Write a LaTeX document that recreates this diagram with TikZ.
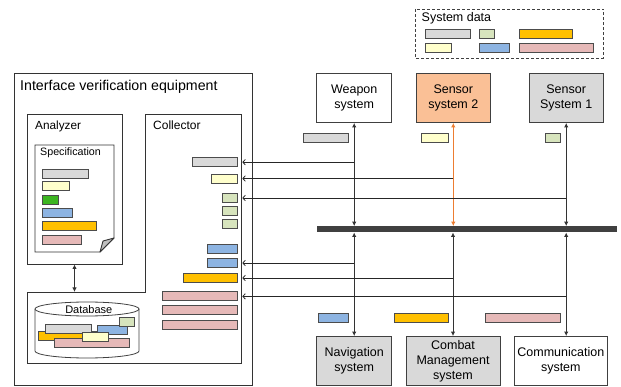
\documentclass[tikz,border=0pt]{standalone}
\usepackage{fontspec}
\setmainfont{Liberation Sans}
\usetikzlibrary{arrows.meta}

\definecolor{cGray}{HTML}{D9D9D9}
\definecolor{cYellow}{HTML}{FFFFCC}
\definecolor{cGreen}{HTML}{D7E4BD}
\definecolor{cLeaf}{HTML}{3CB521}
\definecolor{cBlue}{HTML}{8DB4E2}
\definecolor{cOrange}{HTML}{FFC000}
\definecolor{cPink}{HTML}{E6B9B8}
\definecolor{cPeach}{RGB}{250,192,150}
\definecolor{cLink}{HTML}{ED7D31}
\definecolor{cBus}{HTML}{404040}

\tikzset{
  frame/.style={draw=black!80, line width=0.9pt},
  bar/.style={draw=black!70, line width=0.8pt, inner sep=0pt, outer sep=0pt, minimum height=9pt},
  sysbox/.style={draw=black!75, line width=0.9pt, inner sep=0pt, align=center,
    minimum height=49pt, font=\fontsize{12.5}{14.5}\selectfont},
  caption/.style={inner sep=0pt, anchor=base west},
  vlink/.style={draw=black!80, line width=0.9pt, {Latex[length=4.5pt,width=4.5pt]}-{Latex[length=4.5pt,width=4.5pt]}},
  feed/.style={draw=black!85, line width=0.8pt, -{Straight Barb[length=2.5pt,width=5.5pt]}}
}

\begin{document}
\begin{tikzpicture}[x=1pt,y=-1pt]
\useasboundingbox (0,0) rectangle (621,387);

% ---------- legend ----------
\draw[draw=black!75, line width=0.8pt, dash pattern=on 3pt off 2pt] (415.7,9) rectangle (603.3,58.3);
\node[caption, font=\fontsize{12.5}{14}\selectfont] (sdtitle) at (421.5,21.7) {System data};
\node[bar, fill=cGray,   minimum width=45.3pt, anchor=west] (lgray) at (425,34.2) {};
\node[bar, fill=cGreen,  minimum width=15.3pt, anchor=west] (lgreen) at (479,34.2) {};
\node[bar, fill=cOrange, minimum width=53.4pt, anchor=west] (lorange) at (519.3,34.2) {};
\node[bar, fill=cYellow, minimum width=26pt,   anchor=west] (lyellow) at (425,47.5) {};
\node[bar, fill=cBlue,   minimum width=30.3pt, anchor=west] (lblue) at (479,47.5) {};
\node[bar, fill=cPink,   minimum width=74.4pt, anchor=west] (lpink) at (519.3,47.5) {};

% ---------- interface verification equipment ----------
\draw[frame] (14,73) rectangle (252.5,385.5);
\node[caption, font=\fontsize{14.2}{16}\selectfont] (ivetitle) at (20,90.7) {Interface verification equipment};

% analyzer
\node[frame, inner sep=0pt, minimum width=95pt, minimum height=150pt] (ana) at (74.5,189) {};
\node[caption, font=\fontsize{11.8}{14}\selectfont] (anatitle) at (35,130) {Analyzer};

% specification sheet with folded corner
\draw[frame, fill=white] (35,145) -- (114,145) -- (114,238) -- (100,252) -- (35,252) -- cycle;
\draw[frame, fill=black!25, line join=round] (114,238) -- (103,241) -- (100,252) -- cycle;
\node[caption, font=\fontsize{10.7}{13}\selectfont] (spectitle) at (40,156) {Specification};
\node[bar, fill=cGray,   minimum width=45.5pt, anchor=west] (sgray) at (42.5,173.6) {};
\node[bar, fill=cYellow, minimum width=26.5pt, anchor=west] (syellow) at (42.5,186.4) {};
\node[bar, fill=cLeaf,   minimum width=15.5pt, anchor=west] (sgreen) at (42.5,199.6) {};
\node[bar, fill=cBlue,   minimum width=30.2pt, anchor=west] (sblue) at (42.5,213.3) {};
\node[bar, fill=cOrange, minimum width=54.2pt, anchor=west] (sorange) at (42.5,226.4) {};
\node[bar, fill=cPink,   minimum width=38.8pt, anchor=west] (spink) at (42.5,240) {};

% collector and database area
\draw[frame] (145,114) -- (241,114) -- (241,363) -- (27,363) -- (27,292) -- (145,292) -- cycle;
\node[caption, font=\fontsize{12}{14}\selectfont] (coltitle) at (153,130) {Collector};
\coordinate (dbtop) at (75,292);
\draw[vlink] (ana.south) -- (ana.south |- dbtop);

% database cylinder
\draw[draw=black!75, line width=0.8pt, fill=white]
  (35,309) -- (35,351) arc[start angle=180, end angle=360, x radius=52pt, y radius=7pt] -- (139,309);
\draw[draw=black!75, line width=0.8pt, fill=white] (87,309) ellipse[x radius=52pt, y radius=7pt];
\node[inner sep=0pt, anchor=base, font=\fontsize{11}{13}\selectfont] (dbtitle) at (88.8,313.3) {Database};
\node[bar, fill=cOrange, minimum width=62pt,   anchor=west] (dorange) at (38.3,336) {};
\node[bar, fill=cGray,   minimum width=45.3pt, anchor=west] (dgray) at (45.7,328.7) {};
\node[bar, fill=cPink,   minimum width=74.7pt, anchor=west] (dpink) at (54.3,343) {};
\node[bar, fill=cBlue,   minimum width=30pt,   anchor=west] (dblue) at (97.3,329.8) {};
\node[bar, fill=cGreen,  minimum width=15pt,   anchor=west] (dgreen) at (119.3,322.2) {};
\node[bar, fill=cYellow, minimum width=25.6pt, anchor=west] (dyellow) at (82.7,336.5) {};

% collected records
\node[bar, fill=cGray,   minimum width=45.3pt, anchor=east] (cgray) at (237.3,162.2) {};
\node[bar, fill=cYellow, minimum width=25.6pt, anchor=east] (cyellow) at (237.3,178.5) {};
\node[bar, fill=cGreen,  minimum width=14.6pt, anchor=east] (cgreenA) at (237.3,198) {};
\node[bar, fill=cGreen,  minimum width=14.6pt, anchor=east] (cgreenB) at (237.3,211.2) {};
\node[bar, fill=cGreen,  minimum width=14.6pt, anchor=east] (cgreenC) at (237.3,224.2) {};
\node[bar, fill=cBlue,   minimum width=30pt,   anchor=east] (cblueA) at (237.3,249.2) {};
\node[bar, fill=cBlue,   minimum width=30pt,   anchor=east] (cblueB) at (237.3,263) {};
\node[bar, fill=cOrange, minimum width=53.6pt, anchor=east] (corange) at (237.3,278) {};
\node[bar, fill=cPink,   minimum width=74.6pt, anchor=east] (cpinkA) at (237.3,296.4) {};
\node[bar, fill=cPink,   minimum width=74.6pt, anchor=east] (cpinkB) at (237.3,310) {};
\node[bar, fill=cPink,   minimum width=74.6pt, anchor=east] (cpinkC) at (237.3,324.7) {};

% ---------- systems on the bus ----------
\node[sysbox, fill=white,  minimum width=75pt]   (wpn)  at (354.2,98) {Weapon\\system};
\node[sysbox, fill=cPeach, minimum width=74.7pt] (sen2) at (453.3,98) {Sensor\\system 2};
\node[sysbox, fill=cGray,  minimum width=74.3pt] (sen1) at (566.2,98) {Sensor\\System 1};

\node[sysbox, fill=cGray, minimum width=75pt] (nav) at (354.2,361) {Navigation\\system};
\node[sysbox, fill=cGray, minimum width=94pt, font=\fontsize{12.5}{15.2}\selectfont] (cms) at (453,361) {Combat\\Management\\system};
\node[sysbox, fill=white, minimum width=93pt] (com) at (560.8,361) {Communication\\system};

\node[fill=cBus, inner sep=0pt, minimum width=300pt, minimum height=6pt] (bus) at (467,229.3) {};

% messages on the links
\node[bar, fill=cGray,   minimum width=45pt,   anchor=west] (mgray) at (303.3,138.2) {};
\node[bar, fill=cYellow, minimum width=26.6pt, anchor=west] (myellow) at (421.7,138.2) {};
\node[bar, fill=cGreen,  minimum width=15pt,   anchor=west] (mgreen) at (545.7,138.2) {};
\node[bar, fill=cBlue,   minimum width=30pt,   anchor=west] (mblue) at (318.3,317.8) {};
\node[bar, fill=cOrange, minimum width=54pt,   anchor=west] (morange) at (394.3,317.8) {};
\node[bar, fill=cPink,   minimum width=74.3pt, anchor=west] (mpink) at (485.7,317.8) {};

% links between systems and bus
\draw[vlink] (wpn.south) -- (wpn.south |- bus.north);
\draw[vlink, draw=cLink, line width=1.1pt] (sen2.south) -- (sen2.south |- bus.north);
\draw[vlink] (sen1.south) -- (sen1.south |- bus.north);
\draw[vlink] (nav.north |- bus.south) -- (nav.north);
\draw[vlink] (cms.north |- bus.south) -- (cms.north);
\draw[vlink] (sen1.south |- bus.south) -- (sen1.south |- com.north);

% taps feeding the collector
\draw[feed] (wpn.south |- cgray.east) -- ([xshift=5pt]cgray.east);
\draw[feed] (sen2.south |- cyellow.east) -- ([xshift=5pt]cyellow.east);
\draw[feed] (sen1.south |- cgreenA.east) -- ([xshift=5pt]cgreenA.east);
\draw[feed] (nav.north |- cblueB.east) -- ([xshift=5pt]cblueB.east);
\draw[feed] (cms.north |- corange.east) -- ([xshift=5pt]corange.east);
\draw[feed] (sen1.south |- cpinkA.east) -- ([xshift=5pt]cpinkA.east);
\end{tikzpicture}
\end{document}
